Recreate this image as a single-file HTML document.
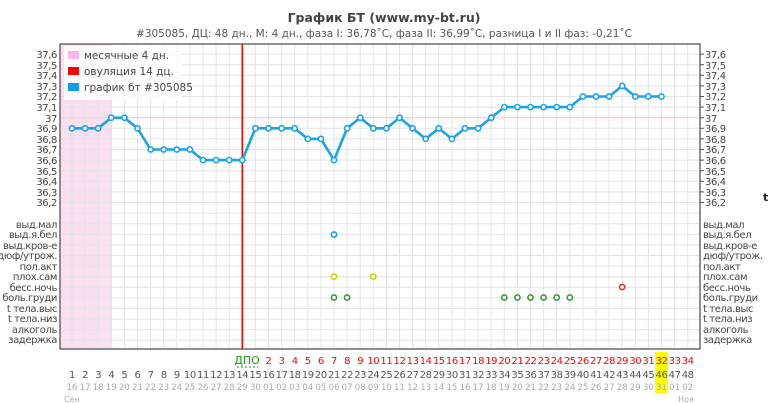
<!DOCTYPE html>
<html><head><meta charset="utf-8"><style>
html,body{margin:0;padding:0;background:#fff;width:770px;height:403px;overflow:hidden}
svg{display:block;font-family:"DejaVu Sans","Liberation Sans",sans-serif}
.ax text{letter-spacing:-0.4px}
</style></head><body>
<svg id="s" width="770" height="403" viewBox="0 0 770 403">
<rect x="60" y="44" width="52" height="305" fill="#f9dff0"/>
<g id="grid" stroke="#e4e4e4" stroke-width="1"></g>
<line x1="60" y1="117.7" x2="700" y2="117.7" stroke="#ffc8c8" stroke-width="1"/>
<line x1="242.3" y1="44" x2="242.3" y2="349" stroke="#f00" stroke-width="1.6"/>
<rect x="60" y="44" width="640" height="305" fill="none" stroke="#555" stroke-width="1.3"/>
<g id="ticks" stroke="#555"></g>
<polyline id="line" fill="none" stroke="#1aa3e8" stroke-width="2.6" stroke-linejoin="round"/>
<g id="pts"></g>
<g id="sym" fill="#fff" stroke-width="1.6"></g>
<rect x="64" y="46" width="118" height="54" fill="#fff" fill-opacity="0.85"/>
<rect x="68" y="51" width="11" height="8" fill="#f8b9e6"/>
<rect x="68" y="67" width="11" height="8" fill="#f00"/>
<rect x="68" y="83" width="11" height="8" fill="#0aa0ea"/>
<g font-size="10.5" fill="#444">
<text x="84" y="59">месячные 4 дн.</text>
<text x="84" y="75">овуляция 14 дц.</text>
<text x="84" y="91">график бт #305085</text>
</g>
<text x="384" y="22" text-anchor="middle" font-size="12.5" font-weight="bold" fill="#444">График БТ (www.my-bt.ru)</text>
<text x="384" y="37" text-anchor="middle" font-size="10.5" fill="#555">#305085, ДЦ: 48 дн., М: 4 дн., фаза I: 36,78˚C, фаза II: 36,99˚C, разница I и II фаз: -0,21˚C</text>
<g class="ax" font-size="10" fill="#444" text-anchor="end">
<text x="57" y="58">37,6</text><text x="57" y="69">37,5</text><text x="57" y="79">37,4</text><text x="57" y="90">37,3</text><text x="57" y="100">37,2</text><text x="57" y="111">37,1</text><text x="57" y="122">37</text><text x="57" y="132">36,9</text><text x="57" y="143">36,8</text><text x="57" y="153">36,7</text><text x="57" y="164">36,6</text><text x="57" y="175">36,5</text><text x="57" y="185">36,4</text><text x="57" y="196">36,3</text><text x="57" y="206">36,2</text>
<text x="57" y="228">выд.мал</text><text x="57" y="238">выд.я.бел</text><text x="57" y="249">выд.кров-е</text><text x="57" y="259">дюф/утрож.</text><text x="57" y="270">пол.акт</text><text x="57" y="280">плох.сам</text><text x="57" y="291">бесс.ночь</text><text x="57" y="301">боль.груди</text><text x="57" y="312">t тела.выс</text><text x="57" y="322">t тела.низ</text><text x="57" y="333">алкоголь</text><text x="57" y="343">задержка</text>
</g>
<g class="ax" font-size="10" fill="#444">
<text x="705" y="58">37,6</text><text x="705" y="69">37,5</text><text x="705" y="79">37,4</text><text x="705" y="90">37,3</text><text x="705" y="100">37,2</text><text x="705" y="111">37,1</text><text x="705" y="122">37</text><text x="705" y="132">36,9</text><text x="705" y="143">36,8</text><text x="705" y="153">36,7</text><text x="705" y="164">36,6</text><text x="705" y="175">36,5</text><text x="705" y="185">36,4</text><text x="705" y="196">36,3</text><text x="705" y="206">36,2</text>
<text x="703" y="228">выд.мал</text><text x="703" y="238">выд.я.бел</text><text x="703" y="249">выд.кров-е</text><text x="703" y="259">дюф/утрож.</text><text x="703" y="270">пол.акт</text><text x="703" y="280">плох.сам</text><text x="703" y="291">бесс.ночь</text><text x="703" y="301">боль.груди</text><text x="703" y="312">t тела.выс</text><text x="703" y="322">t тела.низ</text><text x="703" y="333">алкоголь</text><text x="703" y="343">задержка</text>
<text x="763" y="201" font-weight="bold" font-size="11" fill="#222">t</text>
</g>
<rect x="655" y="352" width="13" height="41" fill="#ffff00"/>
<text x="247" y="364" text-anchor="middle" font-size="11" fill="#1a9a1a">ДПО</text>
<line x1="237" y1="367" x2="258" y2="367" stroke="#1a9a1a" stroke-dasharray="2,2"/>
<g class="ax" font-size="10" fill="#f00" text-anchor="middle">
<text y="364"><tspan x="268.5">2</tspan><tspan x="281.6">3</tspan><tspan x="294.7">4</tspan><tspan x="307.8">5</tspan><tspan x="320.9">6</tspan><tspan x="334">7</tspan><tspan x="347.1">8</tspan><tspan x="360.2">9</tspan><tspan x="373.3">10</tspan><tspan x="386.4">11</tspan><tspan x="399.5">12</tspan><tspan x="412.6">13</tspan><tspan x="425.7">14</tspan><tspan x="438.8">15</tspan><tspan x="451.9">16</tspan><tspan x="465">17</tspan><tspan x="478.1">18</tspan><tspan x="491.2">19</tspan><tspan x="504.3">20</tspan><tspan x="517.4">21</tspan><tspan x="530.5">22</tspan><tspan x="543.6">23</tspan><tspan x="556.7">24</tspan><tspan x="569.8">25</tspan><tspan x="582.9">26</tspan><tspan x="596">27</tspan><tspan x="609.1">28</tspan><tspan x="622.2">29</tspan><tspan x="635.3">30</tspan><tspan x="648.4">31</tspan><tspan x="661.5">32</tspan><tspan x="674.6">33</tspan><tspan x="687.7">34</tspan></text>
</g>
<g class="ax" font-size="10" fill="#555" text-anchor="middle">
<text y="378"><tspan x="72">1</tspan><tspan x="85.1">2</tspan><tspan x="98.2">3</tspan><tspan x="111.3">4</tspan><tspan x="124.4">5</tspan><tspan x="137.5">6</tspan><tspan x="150.6">7</tspan><tspan x="163.7">8</tspan><tspan x="176.8">9</tspan><tspan x="189.9">10</tspan><tspan x="203">11</tspan><tspan x="216.1">12</tspan><tspan x="229.2">13</tspan><tspan x="242.3">14</tspan><tspan x="255.4">15</tspan><tspan x="268.5">16</tspan><tspan x="281.6">17</tspan><tspan x="294.7">18</tspan><tspan x="307.8">19</tspan><tspan x="320.9">20</tspan><tspan x="334">21</tspan><tspan x="347.1">22</tspan><tspan x="360.2">23</tspan><tspan x="373.3">24</tspan><tspan x="386.4">25</tspan><tspan x="399.5">26</tspan><tspan x="412.6">27</tspan><tspan x="425.7">28</tspan><tspan x="438.8">29</tspan><tspan x="451.9">30</tspan><tspan x="465">31</tspan><tspan x="478.1">32</tspan><tspan x="491.2">33</tspan><tspan x="504.3">34</tspan><tspan x="517.4">35</tspan><tspan x="530.5">36</tspan><tspan x="543.6">37</tspan><tspan x="556.7">38</tspan><tspan x="569.8">39</tspan><tspan x="582.9">40</tspan><tspan x="596">41</tspan><tspan x="609.1">42</tspan><tspan x="622.2">43</tspan><tspan x="635.3">44</tspan><tspan x="648.4">45</tspan><tspan x="661.5">46</tspan><tspan x="674.6">47</tspan><tspan x="687.7">48</tspan></text>
</g>
<g font-size="8.5" fill="#aaa" text-anchor="middle">
<text y="390"><tspan x="72">16</tspan><tspan x="85.1">17</tspan><tspan x="98.2">18</tspan><tspan x="111.3">19</tspan><tspan x="124.4">20</tspan><tspan x="137.5">21</tspan><tspan x="150.6">22</tspan><tspan x="163.7">23</tspan><tspan x="176.8">24</tspan><tspan x="189.9">25</tspan><tspan x="203">26</tspan><tspan x="216.1">27</tspan><tspan x="229.2">28</tspan><tspan x="242.3">29</tspan><tspan x="255.4">30</tspan><tspan x="268.5">01</tspan><tspan x="281.6">02</tspan><tspan x="294.7">03</tspan><tspan x="307.8">04</tspan><tspan x="320.9">05</tspan><tspan x="334">06</tspan><tspan x="347.1">07</tspan><tspan x="360.2">08</tspan><tspan x="373.3">09</tspan><tspan x="386.4">10</tspan><tspan x="399.5">11</tspan><tspan x="412.6">12</tspan><tspan x="425.7">13</tspan><tspan x="438.8">14</tspan><tspan x="451.9">15</tspan><tspan x="465">16</tspan><tspan x="478.1">17</tspan><tspan x="491.2">18</tspan><tspan x="504.3">19</tspan><tspan x="517.4">20</tspan><tspan x="530.5">21</tspan><tspan x="543.6">22</tspan><tspan x="556.7">23</tspan><tspan x="569.8">24</tspan><tspan x="582.9">25</tspan><tspan x="596">26</tspan><tspan x="609.1">27</tspan><tspan x="622.2">28</tspan><tspan x="635.3">29</tspan><tspan x="648.4">30</tspan><tspan x="661.5">31</tspan><tspan x="674.6">01</tspan><tspan x="687.7">02</tspan></text>
<text x="72" y="402" font-size="8">Сен</text>
<text x="686" y="402" font-size="8">Ноя</text>
</g>
<script>
var ns="http://www.w3.org/2000/svg";
function el(p,t,a){var e=document.createElementNS(ns,t);for(var k in a)e.setAttribute(k,a[k]);p.appendChild(e);return e;}
var X=function(d){return 72+13.1*(d-1);};
var g=document.getElementById('grid');
for(var d=1;d<=48;d++)el(g,'line',{x1:X(d),y1:44,x2:X(d),y2:349});
for(var k=-1;k<=27;k++){var y=54.1+10.6*k;if(y>44&&y<349)el(g,'line',{x1:60,y1:y,x2:700,y2:y});}
var tk=document.getElementById('ticks');
for(var k=0;k<15;k++){var y=54.1+10.6*k;el(tk,'line',{x1:700,y1:y,x2:704,y2:y});}
var T=[36.9,36.9,36.9,37.0,37.0,36.9,36.7,36.7,36.7,36.7,36.6,36.6,36.6,36.6,36.9,36.9,36.9,36.9,36.8,36.8,36.6,36.9,37.0,36.9,36.9,37.0,36.9,36.8,36.9,36.8,36.9,36.9,37.0,37.1,37.1,37.1,37.1,37.1,37.1,37.2,37.2,37.2,37.3,37.2,37.2,37.2];
var pts=[],pg=document.getElementById('pts');
T.forEach(function(t,i){var x=X(i+1),y=117.7-(t-37)*106;pts.push(x+','+y);});
document.getElementById('line').setAttribute('points',pts.join(' '));
T.forEach(function(t,i){el(pg,'circle',{cx:X(i+1),cy:117.7-(t-37)*106,r:2.6,fill:'#fff',stroke:'#1aa3e8','stroke-width':1.6});});
var R=function(r){return 224+10.5*r;};
var S=[[21,1,'#1aa3e8'],[21,5,'#c8d400'],[24,5,'#c8d400'],[21,7,'#3a9a3a'],[22,7,'#3a9a3a'],[34,7,'#3a9a3a'],[35,7,'#3a9a3a'],[36,7,'#3a9a3a'],[37,7,'#3a9a3a'],[38,7,'#3a9a3a'],[39,7,'#3a9a3a'],[43,6,'#e03030']];
var sg=document.getElementById('sym');
S.forEach(function(s){el(sg,'circle',{cx:X(s[0]),cy:R(s[1]),r:2.6,stroke:s[2]});});
</script>
</svg>
</body></html>
